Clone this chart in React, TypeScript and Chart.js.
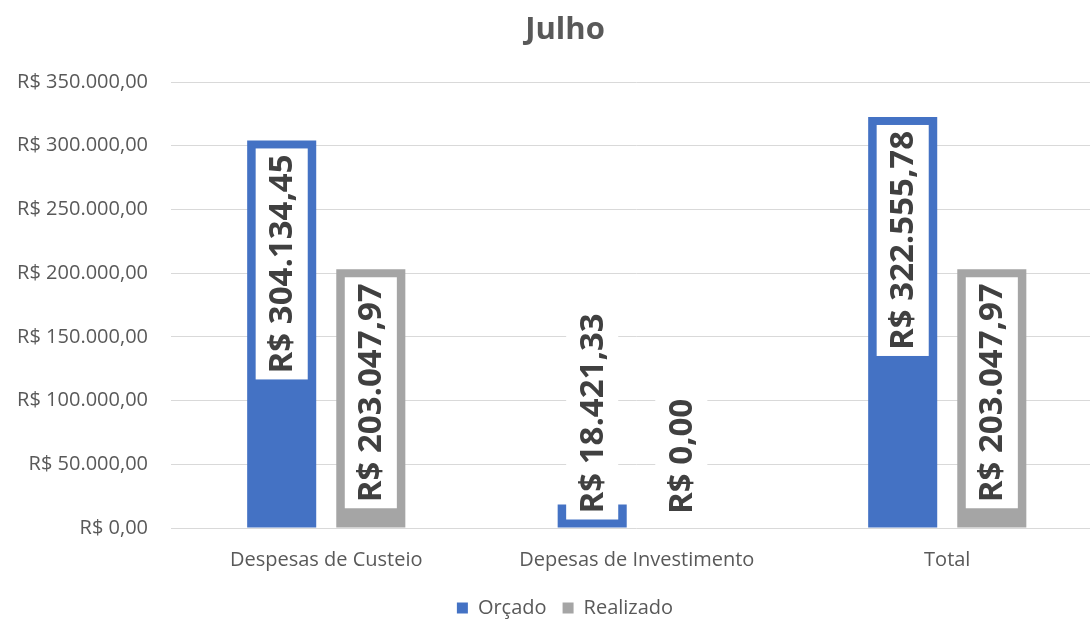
import React, { useEffect, useRef } from "react";
import { Chart, registerables } from "chart.js";

Chart.register(...registerables);

const categories = ["Despesas de Custeio", "Depesas de Investimento", "Total"];
const orcado = [304134.45, 18421.33, 322555.78];
const realizado = [203047.97, 0, 203047.97];
const seriesNames = ["Orçado", "Realizado"];
const yTicksMax = 350000;
const yStep = 50000;

const FONT = '"Open Sans", "Noto Sans", sans-serif';

function fmtBRL(v: number): string {
  const fixed = Math.abs(v).toFixed(2);
  const [intPart, dec] = fixed.split(".");
  const withDots = intPart.replace(/\B(?=(\d{3})+(?!\d))/g, ".");
  return "R$ " + (v < 0 ? "-" : "") + withDots + "," + dec;
}

const barLabels = {
  id: "barLabels",
  afterDatasetsDraw(chart: any) {
    const ctx = chart.ctx;
    chart.data.datasets.forEach((ds: any, di: number) => {
      const meta = chart.getDatasetMeta(di);
      meta.data.forEach((bar: any, i: number) => {
        const { x, y, base, width } = bar.getProps(["x", "y", "base", "width"], true);
        const text = fmtBRL(ds.data[i]);
        ctx.save();
        ctx.font = `bold 33px ${FONT}`;
        const tw = ctx.measureText(text).width;
        const boxH = tw + 12;
        const boxW = width - 17;
        const inset = 8;
        let top = y + inset;
        if (top + boxH > base - inset) top = base - inset - boxH;
        ctx.fillStyle = "#ffffff";
        ctx.fillRect(x - boxW / 2, top, boxW, boxH);
        ctx.translate(x, top + boxH / 2);
        ctx.rotate(-Math.PI / 2);
        ctx.textAlign = "center";
        ctx.textBaseline = "middle";
        ctx.fillStyle = "#404040";
        ctx.fillText(text, 0, 1);
        ctx.restore();
      });
    });
  },
};

export default function App() {
  const ref = useRef<HTMLCanvasElement | null>(null);
  useEffect(() => {
    if (!ref.current) return;
    const chart = new Chart(ref.current, {
      type: "bar",
      data: {
        labels: categories,
        datasets: [
          { label: seriesNames[0], data: orcado, backgroundColor: "#4472C4", barPercentage: 0.775, categoryPercentage: 0.574 },
          { label: seriesNames[1], data: realizado, backgroundColor: "#A5A5A5", barPercentage: 0.775, categoryPercentage: 0.574 },
        ],
      },
      options: {
        responsive: false,
        animation: false,
        layout: { padding: { left: 0, right: 0, top: 0, bottom: 0 } },
        plugins: {
          title: {
            display: true,
            text: "Julho",
            color: "#595959",
            font: { family: FONT, size: 31, weight: "bold" },
            padding: { top: 11.4, bottom: 33.4 },
          },
          legend: {
            position: "bottom",
            labels: {
              color: "#595959",
              font: { family: FONT, size: 20 },
              boxWidth: 11,
              boxHeight: 11,
              padding: 16,
            },
          },
          tooltip: { enabled: false },
        },
        scales: {
          x: {
            afterFit(scale: any) {
              scale.height = 54;
            },
            grid: { display: false, drawTicks: false },
            border: { display: false },
            ticks: { color: "#595959", font: { family: FONT, size: 20 }, padding: 20 },
          },
          y: {
            min: 0,
            max: yTicksMax,
            afterFit(scale: any) {
              scale.width = 171;
            },
            grid: { color: "#d9d9d9", lineWidth: 1, drawTicks: false },
            border: { display: false },
            ticks: {
              stepSize: yStep,
              color: "#595959",
              font: { family: FONT, size: 20 },
              padding: 23,
              callback: (v: any) => fmtBRL(Number(v)),
            },
          },
          yRight: {
            type: "linear",
            position: "right",
            min: 0,
            max: yTicksMax,
            afterFit(scale: any) {
              scale.width = 27.5;
            },
            grid: { display: false, drawTicks: false },
            border: { display: false },
            ticks: { display: false },
          },
        },
      },
      plugins: [barLabels],
    });
    return () => chart.destroy();
  }, []);
  return (
    <div style={{ position: "absolute", left: 0, top: 0, width: 1090, height: 620, overflow: "hidden", background: "#fff" }}>
      <canvas ref={ref} width={1130} height={628} />
    </div>
  );
}
